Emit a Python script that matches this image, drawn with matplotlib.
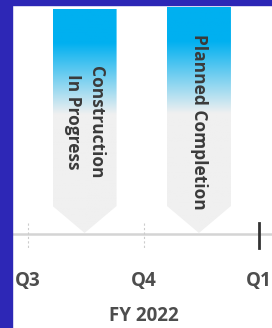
import matplotlib.pyplot as plt
import numpy as np
from matplotlib.patches import Polygon, Rectangle
from matplotlib.colors import to_rgb

quarters = ['Q3', 'Q4', 'Q1']
fiscal_year = 'FY 2022'
current_quarter = 2
milestones = ['Construction\nIn Progress', 'Planned Completion']
milestone_pos = [0.49, 1.48]
milestone_top = [9, 7]

plt.rcParams['font.family'] = ['Open Sans', 'DejaVu Sans']

fig = plt.figure(figsize=(2.72, 3.28), dpi=100)
ax = fig.add_axes([0, 0, 1, 1])
ax.set_xlim(-28 / 115.5, 244 / 115.5)
ax.set_ylim(328, 0)
ax.axis('off')

# frame on left and top
fig.patches.append(Rectangle((0, 0), 12 / 272, 1, transform=fig.transFigure, color='#2d27b6', zorder=5))
fig.patches.append(Rectangle((0, 1 - 5 / 328), 1, 5 / 328, transform=fig.transFigure, color='#2d27b6', zorder=5))

axis_y = 234
ax.axhline(axis_y, color='#d4d4d4', lw=1.8, zorder=1)

for i, q in enumerate(quarters):
    if i == current_quarter:
        ax.plot([i, i], [223, 248], color='#333333', lw=2, zorder=3)
    else:
        ax.plot([i, i], [223, 248], color='#cccccc', lw=0.8, ls=(0, (2, 2)), zorder=1)
    ax.text(i, 281, q, ha='center', va='center', fontsize=13.5, fontweight='bold', color='#4d4d4d')

ax.text(1, 316, fiscal_year, ha='center', va='center', fontsize=13.5, fontweight='bold', color='#4d4d4d')

blue = np.array(to_rgb('#00b0f0'))
grey = np.array(to_rgb('#f0f0f0'))
half = 32 / 115.5
rect_bottom = 206
tip = 233

for name, x, top in zip(milestones, milestone_pos, milestone_top):
    verts = [(x - half, top), (x + half, top), (x + half, rect_bottom), (x, tip), (x - half, rect_bottom)]
    poly = Polygon(verts, closed=True, facecolor='none', edgecolor='none')
    ax.add_patch(poly)
    ys = np.linspace(top, tip, 300)
    frac = (ys - top) / (tip - top)
    t = np.clip((frac - 0.15) / (0.47 - 0.15), 0, 1)
    cols = blue[None, :] * (1 - t[:, None]) + grey[None, :] * t[:, None]
    img = ax.imshow(cols[:, None, :], extent=(x - half, x + half, tip, top), origin='upper',
                    aspect='auto', zorder=2, interpolation='bilinear')
    img.set_clip_path(poly)
    ax.text(x, 122, name, rotation=-90, ha='center', va='center', multialignment='center',
            fontsize=12.5, fontweight='bold', color='#3a3a3a', zorder=4, linespacing=1.3)

ax.set_xlim(-28 / 115.5, 244 / 115.5)
ax.set_ylim(328, 0)

plt.savefig('out.png', dpi=100)
